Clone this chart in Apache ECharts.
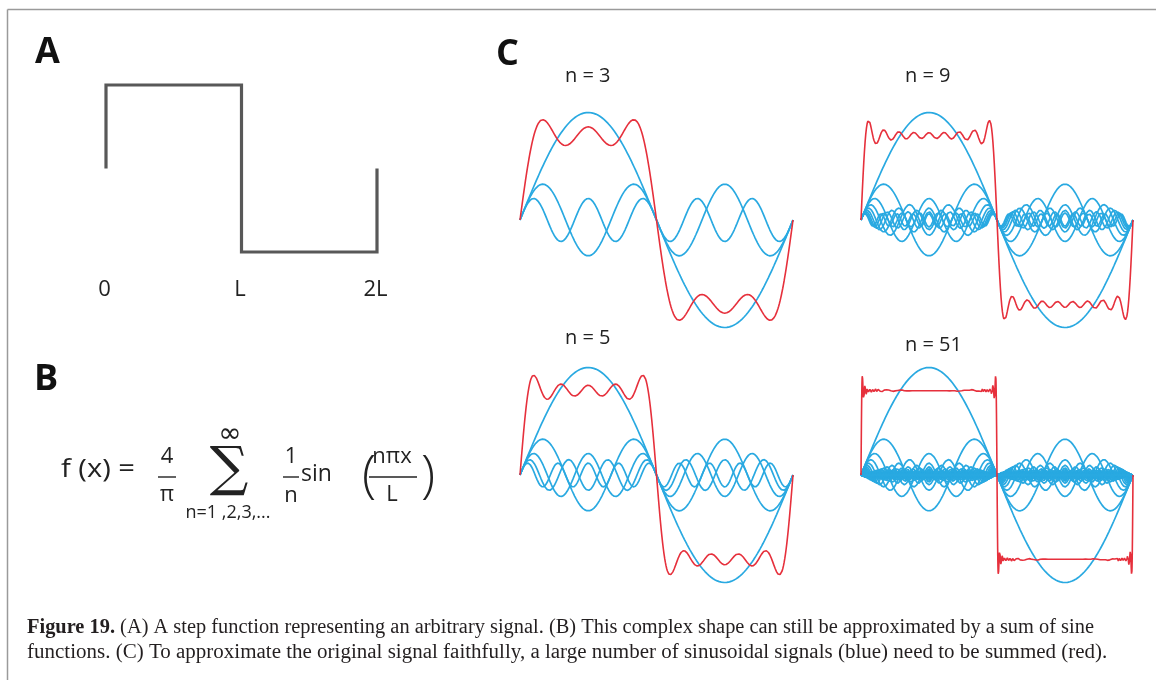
<!DOCTYPE html>
<html><head><meta charset="utf-8">
<script src="https://cdn.jsdelivr.net/npm/echarts/dist/echarts.min.js"></script>
<style>html,body{margin:0;padding:0;background:#fff}#c{width:1156px;height:680px}</style>
</head><body><div id="c"></div>
<script>
// Panel A: step function corner points (x in units of L, y in units of step height)
const stepX = [0, 0, 1, 1, 2, 2];
const stepY = [0, 1, 1, -1, -1, 0];
const stepTickValues = [0, 1, 2];
const stepTickLabels = ['0', 'L', '2L'];

// Panel C: four approximations, number of odd sine terms shown in each
const panelTitles = ['n = 3', 'n = 9', 'n = 5', 'n = 51'];
const panelTermCounts = [3, 9, 5, 51];
// harmonic orders used: 1, 3, 5, ... (odd), each with amplitude 1/order
const firstHarmonic = 1;
const harmonicStep = 2;

const BLUE = '#29a9e1';
const RED = '#e6303c';
const SANS = "'Open Sans', 'Noto Sans', sans-serif";
const SERIF = "'Liberation Serif', 'DejaVu Serif', serif";

const chart = echarts.init(document.getElementById('c'), null, {renderer: 'canvas'});

const grids = [
  {left: 106, top: 85, width: 271, height: 167},
  {left: 520, top: 91, width: 273, height: 258},
  {left: 861, top: 91, width: 272, height: 258},
  {left: 520, top: 346, width: 273, height: 258},
  {left: 861, top: 346, width: 272, height: 258}
];
const xAxes = [], yAxes = [], series = [];
grids.forEach((g, i) => {
  xAxes.push({
    gridIndex: i, type: 'value', min: 0, max: 2, interval: 1,
    axisLine: {show: false}, axisTick: {show: false}, splitLine: {show: false},
    axisLabel: i === 0 ? {
      show: true, margin: 27, fontSize: 22, color: '#222', fontFamily: SANS,
      showMinLabel: true, showMaxLabel: true, padding: [0, 3, 0, 0],
      formatter: v => stepTickLabels[stepTickValues.indexOf(Math.round(v))] || ''
    } : {show: false}
  });
  yAxes.push({
    gridIndex: i, type: 'value', min: i === 0 ? -1 : -1.2, max: i === 0 ? 1 : 1.2,
    show: false, splitLine: {show: false}
  });
});

series.push({
  type: 'line', xAxisIndex: 0, yAxisIndex: 0, symbol: 'none', clip: false,
  data: stepX.map((x, i) => [x, stepY[i]]),
  lineStyle: {color: '#585858', width: 3.2, join: 'miter', cap: 'butt'}
});

panelTermCounts.forEach((terms, p) => {
  const orders = [];
  for (let k = 0; k < terms; k++) orders.push(firstHarmonic + harmonicStep * k);
  const maxH = orders[orders.length - 1];
  const N = Math.max(400, maxH * 20);
  const xs = [];
  for (let i = 0; i <= N; i++) xs.push(2 * i / N);
  const sum = xs.map(() => 0);
  orders.forEach(h => {
    const data = xs.map((x, i) => {
      const y = Math.sin(h * Math.PI * x) / h;
      sum[i] += y;
      return [x, y];
    });
    series.push({
      type: 'line', xAxisIndex: p + 1, yAxisIndex: p + 1, symbol: 'none', silent: true,
      data, lineStyle: {color: BLUE, width: 1.7}, z: 2
    });
  });
  series.push({
    type: 'line', xAxisIndex: p + 1, yAxisIndex: p + 1, symbol: 'none', silent: true,
    data: xs.map((x, i) => [x, sum[i]]), lineStyle: {color: RED, width: 1.6}, z: 3
  });
});

function txt(text, x, y, size, opts) {
  opts = opts || {};
  const el = {
    type: 'text', x, y, silent: true,
    style: {
      text, fontSize: size, fontFamily: opts.family || SANS, fontWeight: opts.weight || 'normal',
      fill: opts.fill || '#222', textAlign: opts.align || 'left', textVerticalAlign: 'middle'
    }
  };
  if (opts.scaleX) el.scaleX = opts.scaleX;
  if (opts.rich) el.style.rich = opts.rich;
  return el;
}
function bar(x1, x2, y) {
  return {type: 'line', silent: true, shape: {x1, y1: y, x2, y2: y}, style: {stroke: '#222', lineWidth: 1.4}};
}

const CAP = 20;
const graphics = [
  {type: 'line', silent: true, shape: {x1: 7.5, y1: 9.5, x2: 1156, y2: 9.5}, style: {stroke: '#9a9a9a', lineWidth: 1.5}},
  {type: 'line', silent: true, shape: {x1: 7.5, y1: 9.5, x2: 7.5, y2: 680}, style: {stroke: '#9a9a9a', lineWidth: 1.5}},
  txt('A', 35, 53, 36, {weight: 'bold', fill: '#111'}),
  txt('B', 34, 380, 36, {weight: 'bold', fill: '#111'}),
  txt('C', 496, 55, 36, {weight: 'bold', fill: '#111'}),
  txt(panelTitles[0], 565, 76, 20),
  txt(panelTitles[1], 905, 76, 20),
  txt(panelTitles[2], 565, 338, 20),
  txt(panelTitles[3], 905, 345, 20),
  // formula
  txt('f (x) =', 61, 470, 26, {scaleX: 1.12}),
  txt('4', 167, 457, 22, {align: 'center'}),
  bar(158, 176, 477),
  txt('π', 167, 495, 22, {align: 'center'}),
  txt('∞', 230, 435, 28, {align: 'center', family: "'DejaVu Sans', sans-serif"}),
  txt('∑', 229, 471, 54, {align: 'center', family: "'DejaVu Serif', serif"}),
  txt('n=1 ,2,3,...', 228, 513, 18, {align: 'center'}),
  txt('1', 291, 457, 22, {align: 'center'}),
  bar(283, 299, 477),
  txt('n', 291, 496, 22, {align: 'center'}),
  txt('sin', 301, 474, 23),
  txt('(', 369, 477, 52, {align: 'center', weight: 300}),
  txt('nπx', 392, 457, 22, {align: 'center'}),
  bar(369, 417, 477),
  txt('L', 392, 495, 22, {align: 'center'}),
  txt(')', 428, 477, 52, {align: 'center', weight: 300}),
  // caption
  txt('{b|Figure 19.} (A) A step function representing an arbitrary signal. (B) This complex shape can still be approximated by a sum of sine',
      27, 628, CAP, {family: SERIF, fill: '#231f20', scaleX: 1.02,
      rich: {b: {fontWeight: 'bold', fontSize: CAP, fontFamily: SERIF, fill: '#231f20'}}}),
  txt('functions. (C) To approximate the original signal faithfully, a large number of sinusoidal signals (blue) need to be summed (red).',
      27, 653, CAP, {family: SERIF, fill: '#231f20', scaleX: 1.05})
];

chart.setOption({
  animation: false,
  backgroundColor: '#fff',
  grid: grids,
  xAxis: xAxes,
  yAxis: yAxes,
  series,
  graphic: graphics
});
</script>
</body></html>
